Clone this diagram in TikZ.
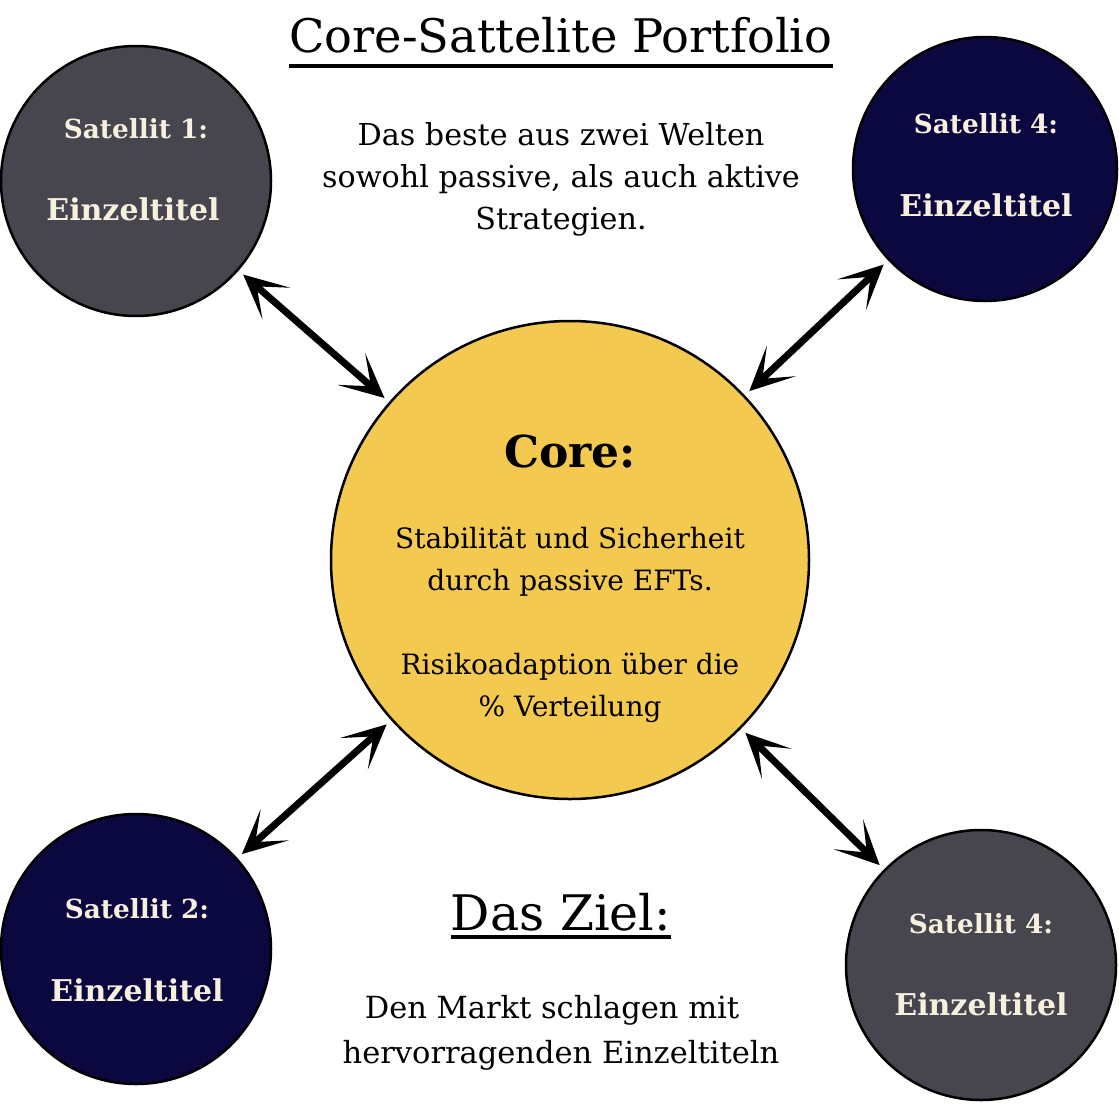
\documentclass[tikz,border=0pt]{standalone}
\usepackage{fontspec}
\setmainfont{DejaVu Serif}
\usetikzlibrary{arrows.meta}
\definecolor{satgray}{HTML}{47464E}
\definecolor{satnavy}{HTML}{0B0840}
\definecolor{coreyellow}{HTML}{F3C94F}
\definecolor{cream}{HTML}{F7F0DF}
\tikzset{bigtip/.tip={Stealth[length=44pt,width=42pt,inset=26pt]}}
\begin{document}
\begin{tikzpicture}[x=1pt,y=-1pt,
  ball/.style={circle, draw=black, line width=2.5pt, inner sep=0pt, minimum size=#1},
  sathead/.style={text=cream, inner sep=0pt, anchor=base, font=\fontsize{26.3}{30}\selectfont\bfseries},
  satbody/.style={text=cream, inner sep=0pt, anchor=base, font=\fontsize{30}{34}\selectfont\bfseries},
  bodytxt/.style={inner sep=0pt, anchor=base, align=center},
  uline/.style={line width=3.5pt},
  link/.style={line width=7pt, bigtip-bigtip, shorten <=6pt, shorten >=6pt}
]
\useasboundingbox (0,0) rectangle (1119,1103);

% circles
\node[ball=478, fill=coreyellow] (core) at (570,560) {};
\node[ball=270, fill=satgray] (s1) at (136,181) {};
\node[ball=264, fill=satnavy] (s4a) at (985,169) {};
\node[ball=270, fill=satnavy] (s2) at (136,949) {};
\node[ball=270, fill=satgray] (s4b) at (981,965) {};

% satellite texts
\node[sathead] (s1h) at (136,138) {Satellit 1:};
\node[satbody] (s1b) at (133,220) {Einzeltitel};
\node[sathead] (s4ah) at (986,133) {Satellit 4:};
\node[satbody] (s4ab) at (986,216) {Einzeltitel};
\node[sathead] (s2h) at (137,918) {Satellit 2:};
\node[satbody] (s2b) at (137,1001) {Einzeltitel};
\node[sathead] (s4bh) at (981,933) {Satellit 4:};
\node[satbody] (s4bb) at (981,1015) {Einzeltitel};

% core texts
\node[bodytxt, font=\fontsize{44}{50}\selectfont\bfseries] (coreh) at (570,467) {Core:};
\node[bodytxt, font=\fontsize{28}{42}\selectfont] (coret) at (570,716)
  {Stabilität und Sicherheit\\durch passive EFTs.\\[42pt]Risikoadaption über die\\\% Verteilung};

% title
\node[bodytxt, font=\fontsize{46.3}{52}\selectfont] (title) at (561,52) {Core-Sattelite Portfolio};
\draw[uline] ([yshift=-14pt]title.base west) -- ([yshift=-14pt]title.base east);
\node[bodytxt, font=\fontsize{30.2}{42}\selectfont] (sub) at (561,229)
  {Das beste aus zwei Welten\\sowohl passive, als auch aktive\\Strategien.};

% goal
\node[bodytxt, font=\fontsize{49}{54}\selectfont] (goal) at (561,930) {Das Ziel:};
\draw[uline] ([yshift=-7pt]goal.base west) -- ([yshift=-7pt]goal.base east);
\node[bodytxt, font=\fontsize{30.5}{45}\selectfont] (goalt) at (561,1063)
  {Den Markt schlagen mit\hspace*{18pt}\\hervorragenden Einzeltiteln};

% connectors
\draw[link] (s1) -- (core);
\draw[link] (s4a) -- (core);
\draw[link] (s2) -- (core);
\draw[link] (s4b) -- (core);
\end{tikzpicture}
\end{document}
